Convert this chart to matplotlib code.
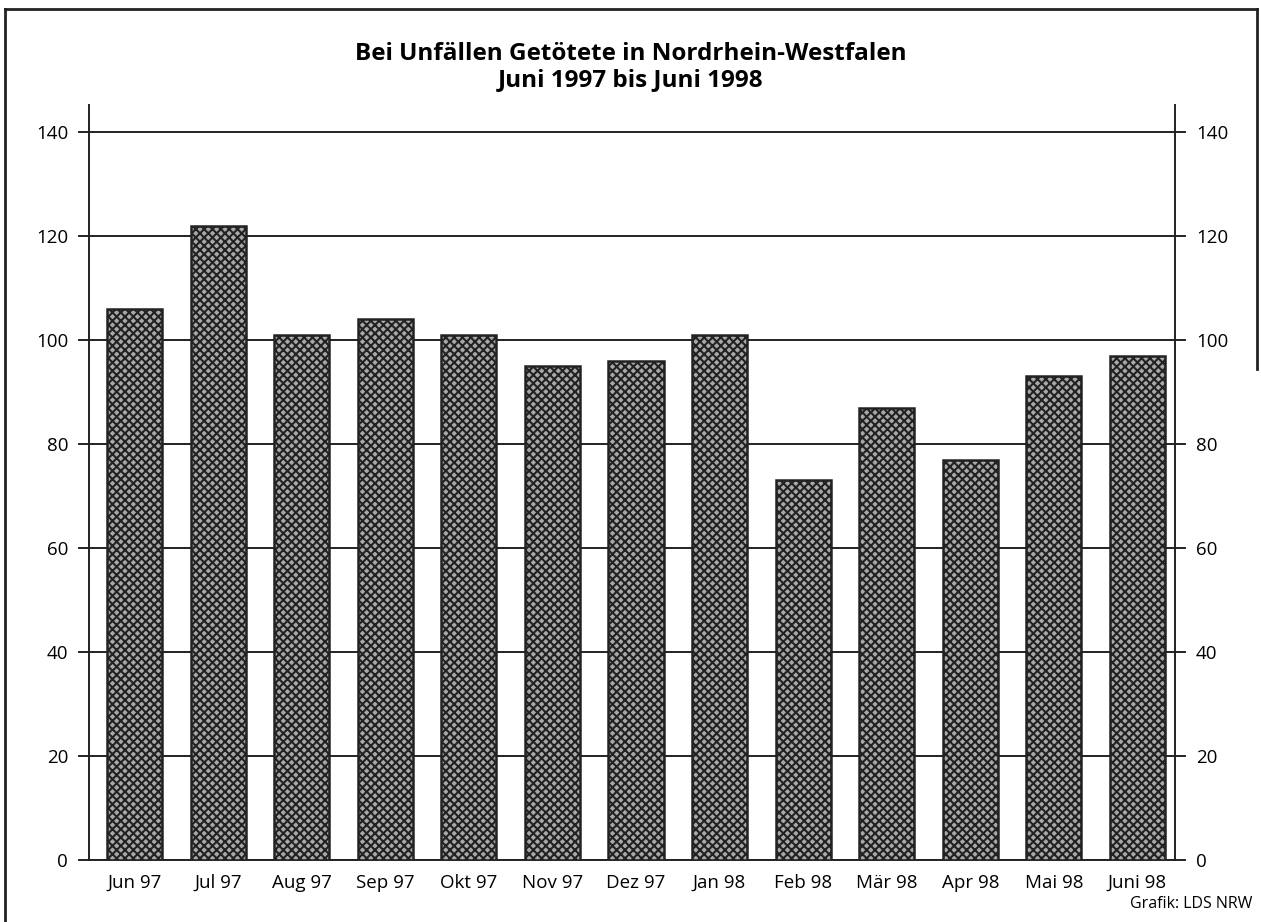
import numpy as np
import matplotlib.pyplot as plt
from matplotlib.lines import Line2D

# Monate und Anzahl der Getöteten
monate = ["Jun 97", "Jul 97", "Aug 97", "Sep 97", "Okt 97", "Nov 97", "Dez 97",
          "Jan 98", "Feb 98", "Mär 98", "Apr 98", "Mai 98", "Juni 98"]
getoetete = [106, 122, 101, 104, 101, 95, 96, 101, 73, 87, 77, 93, 97]
y_ticks = [0, 20, 40, 60, 80, 100, 120, 140]

plt.rcParams['font.family'] = ['Open Sans', 'DejaVu Sans']
plt.rcParams['hatch.linewidth'] = 1.5

fig = plt.figure(figsize=(12.61, 9.22), dpi=100)
ax = fig.add_axes([0.0706, 0.0672, 0.8612, 0.8189])

x = np.arange(len(monate))
ax.bar(x, getoetete, width=0.66, color='#a8a8a8', edgecolor='#222222',
       hatch='xxxx', linewidth=1.8, zorder=3)

ax.set_xlim(-0.545, 12.45)
ax.set_ylim(0, 145.2)
ax.set_yticks(y_ticks)
ax.set_xticks(x)
ax.set_xticklabels(monate, fontsize=13.5)
ax.tick_params(axis='x', length=0, pad=10)
ax.tick_params(axis='y', labelsize=13.5, length=8, width=1.2, pad=7,
               right=True, labelright=True, direction='out')
ax.grid(axis='y', color='#222222', linewidth=1.4, zorder=1)
ax.spines['top'].set_visible(False)
for s in ['left', 'right', 'bottom']:
    ax.spines[s].set_linewidth(1.4)
    ax.spines[s].set_color('#222222')

fig.text(0.5, 0.941, "Bei Unfällen Getötete in Nordrhein-Westfalen",
         ha='center', va='center', fontsize=17.5, fontweight='bold')
fig.text(0.5, 0.913, "Juni 1997 bis Juni 1998",
         ha='center', va='center', fontsize=17.5, fontweight='bold')
fig.text(0.993, 0.020, "Grafik: LDS NRW", ha='right', va='center', fontsize=11.5)

# Rahmen
fig.add_artist(Line2D([0.004, 0.997], [0.990, 0.990], color='#222222', lw=2))
fig.add_artist(Line2D([0.004, 0.004], [0.0, 0.990], color='#222222', lw=2))
fig.add_artist(Line2D([0.997, 0.997], [0.60, 0.990], color='#222222', lw=2))

fig.savefig('out.png', dpi=100)
